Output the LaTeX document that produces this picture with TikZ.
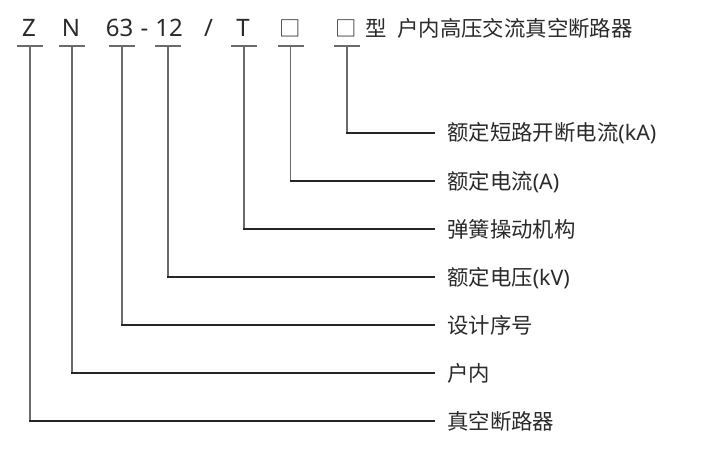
\documentclass[tikz,border=0pt]{standalone}
\usepackage{fontspec}
\setmainfont{Noto Sans}
\newfontfamily\cjk{Noto Sans CJK SC}
\definecolor{txt}{HTML}{2A2A2A}
\definecolor{vgray}{HTML}{6A6A6A}
\definecolor{hdark}{HTML}{262626}
\begin{document}
\begin{tikzpicture}[x=1pt,y=-1pt,
  code/.style={anchor=base,inner sep=0pt,text=txt,font=\fontsize{24}{28}\selectfont},
  cjkcode/.style={anchor=base,inner sep=0pt,text=txt,font=\cjk\fontsize{21.4}{26}\selectfont},
  lab/.style={anchor=west,inner sep=0pt,text=txt,text height=17pt,text depth=1pt,font=\fontsize{21.4}{26}\selectfont},
  bar/.style={vgray,line width=1.3pt},
  vline/.style={vgray,line width=1.3pt},
  hline/.style={hdark,line width=1.3pt}]
\useasboundingbox (0,0) rectangle (711,465);
% top code row
\node[code] (z) at (29,37) {Z};
\node[code] (n) at (71,37) {N};
\node[code] (c63) at (119.5,37) {63};
\node[code] (dash) at (144.5,37) {-};
\node[code] (c12) at (169,37) {12};
\node[code] (slash) at (208.5,37) {/};
\node[code] (t) at (243,37) {T};
\node[cjkcode] (s1) at (290.5,37) {□};
\node[cjkcode] (s2) at (346.5,37) {□};
\node[cjkcode] (xing) at (376,37) {型};
\node[cjkcode,anchor=base west] (title) at (397,37) {户内高压交流真空断路器};
% bar coordinates
\coordinate (zb) at (30,46);
\coordinate (nb) at (72,46);
\coordinate (b63) at (122,46);
\coordinate (b12) at (168,46);
\coordinate (tb) at (244,46);
\coordinate (s1b) at (290.5,46);
\coordinate (s2b) at (347,46);
\foreach \c in {zb,nb,b63,b12,tb,s1b,s2b}{
  \draw[bar] ([xshift=-13pt]\c) -- ([xshift=13pt]\c);
}
% labels
\node[lab] (l1) at (447,133) {{\cjk 额定短路开断电流}(kA)};
\node[lab] (l2) at (447,181) {{\cjk 额定电流}(A)};
\node[lab] (l3) at (447,229) {{\cjk 弹簧操动机构}};
\node[lab] (l4) at (447,277) {{\cjk 额定电压}(kV)};
\node[lab] (l5) at (447,325) {{\cjk 设计序号}};
\node[lab] (l6) at (447,373) {{\cjk 户内}};
\node[lab] (l7) at (447,421) {{\cjk 真空断路器}};
% connectors
\foreach \b/\l in {s2b/l1,s1b/l2,tb/l3,b12/l4,b63/l5,nb/l6,zb/l7}{
  \draw[vline] (\b) -- (\b |- \l.west);
  \draw[hline] ([xshift=-0.65pt]\b |- \l.west) -- ([xshift=-12pt]\l.west);
}
\end{tikzpicture}
\end{document}
